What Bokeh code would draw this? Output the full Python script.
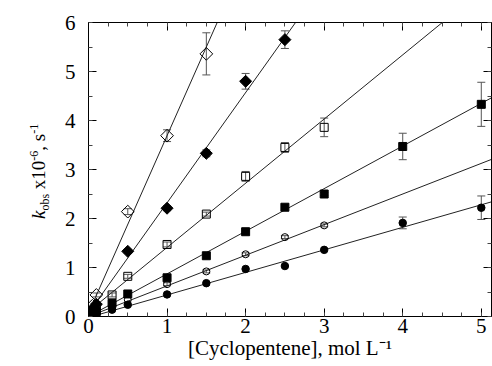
import numpy as np
from bokeh.plotting import figure
from bokeh.layouts import row
from bokeh.models import (ColumnDataSource, Whisker, TeeHead, LinearAxis, Div,
                          Range1d, SingleIntervalTicker)
from bokeh.embed import file_html
from bokeh.resources import INLINE

# ---- data ----
od_x = [0.02, 0.05, 0.1, 0.5, 1.0, 1.5]
od_y = [0.10, 0.22, 0.44, 2.14, 3.69, 5.36]
od_e = [0, 0, 0.04, 0.06, 0.12, 0.43]

fd_x = [0.02, 0.05, 0.1, 0.5, 1.0, 1.5, 2.0, 2.5]
fd_y = [0.07, 0.14, 0.25, 1.33, 2.21, 3.33, 4.80, 5.65]
fd_e = [0, 0, 0, 0.04, 0.05, 0.07, 0.16, 0.18]

os_x = [0.02, 0.05, 0.1, 0.3, 0.5, 1.0, 1.5, 2.0, 2.5, 3.0]
os_y = [0.04, 0.08, 0.14, 0.44, 0.82, 1.47, 2.09, 2.86, 3.45, 3.86]
os_e = [0, 0, 0, 0.04, 0.04, 0.05, 0.04, 0.10, 0.10, 0.19]

fs_x = [0.02, 0.05, 0.1, 0.3, 0.5, 1.0, 1.5, 2.0, 2.5, 3.0, 4.0, 5.0]
fs_y = [0.03, 0.06, 0.10, 0.27, 0.46, 0.79, 1.24, 1.73, 2.23, 2.50, 3.47, 4.33]
fs_e = [0, 0, 0, 0, 0, 0, 0, 0, 0, 0.03, 0.27, 0.45]

oc_x = [0.02, 0.05, 0.1, 0.3, 0.5, 1.0, 1.5, 2.0, 2.5, 3.0]
oc_y = [0.02, 0.04, 0.07, 0.19, 0.34, 0.66, 0.92, 1.27, 1.62, 1.86]
oc_e = [0, 0, 0, 0, 0, 0.03, 0.03, 0.03, 0.03, 0.03]

fc_x = [0.02, 0.05, 0.1, 0.3, 0.5, 1.0, 1.5, 2.0, 2.5, 3.0, 4.0, 5.0]
fc_y = [0.01, 0.03, 0.05, 0.14, 0.24, 0.45, 0.68, 0.97, 1.03, 1.36, 1.91, 2.22]
fc_e = [0, 0, 0, 0, 0, 0, 0, 0, 0, 0, 0.12, 0.24]

# fitted lines (slope, intercept)
fit_slopes = [3.62, 2.25, 1.31, 0.87, 0.625, 0.46]
fit_intercepts = [0.07, 0.07, 0.10, 0.0, 0.0, -0.02]

x_label = "[Cyclopentene], mol L\u207b\u00b9"

FONT = "Liberation Serif"
YDIV_W = 56

p = figure(width=492 - YDIV_W, height=366, output_backend="svg", toolbar_location=None,
           x_range=Range1d(0, 5.13), y_range=Range1d(0, 6),
           min_border_left=88 - YDIV_W, min_border_right=1, min_border_top=22,
           min_border_bottom=50)
p.xgrid.visible = False
p.ygrid.visible = False
p.outline_line_color = "black"
p.background_fill_color = "white"
p.border_fill_color = "white"

def style_axis(ax, show_labels, standoff):
    ax.axis_line_color = "black"
    ax.major_tick_line_color = "black"
    ax.minor_tick_line_color = "#444444"
    ax.major_tick_in = 8
    ax.major_tick_out = 0
    ax.minor_tick_in = 4
    ax.minor_tick_out = 0
    if show_labels:
        ax.major_label_text_font = FONT
        ax.major_label_text_font_size = "21px"
        ax.major_label_text_color = "black"
        ax.major_label_standoff = standoff
    else:
        ax.major_label_text_color = None
        ax.major_label_text_font_size = "0px"
        ax.major_label_standoff = 0

p.xaxis.ticker = SingleIntervalTicker(interval=1, num_minor_ticks=4)
p.yaxis.ticker = SingleIntervalTicker(interval=1, num_minor_ticks=2)
style_axis(p.xaxis[0], True, 2)
style_axis(p.yaxis[0], True, 13)

p.xaxis.axis_label = x_label
p.xaxis.axis_label_text_font = FONT
p.xaxis.axis_label_text_font_size = "21px"
p.xaxis.axis_label_text_font_style = "normal"
p.xaxis.axis_label_text_color = "black"
p.xaxis.axis_label_standoff = 0

top = LinearAxis(ticker=SingleIntervalTicker(interval=1, num_minor_ticks=4))
right = LinearAxis(ticker=SingleIntervalTicker(interval=1, num_minor_ticks=2))
style_axis(top, False, 0)
style_axis(right, False, 0)
p.add_layout(top, "above")
p.add_layout(right, "right")

# fit lines
x_end = 5.2
for s, b in zip(fit_slopes, fit_intercepts):
    p.line([0, x_end], [b, b + s * x_end], line_color="#222222", line_width=1)

series = [
    (od_x, od_y, od_e, "square", np.pi / 4, 9, None),
    (fd_x, fd_y, fd_e, "square", np.pi / 4, 8.5, "black"),
    (os_x, os_y, os_e, "square", 0, 8, None),
    (fs_x, fs_y, fs_e, "square", 0, 8, "black"),
    (oc_x, oc_y, oc_e, "circle", 0, 7, None),
    (fc_x, fc_y, fc_e, "circle", 0, 7.5, "black"),
]

for xs, ys, es, marker, ang, size, fill in series:
    xe = [x for x, e in zip(xs, es) if e > 0]
    lo = [y - e for y, e in zip(ys, es) if e > 0]
    hi = [y + e for y, e in zip(ys, es) if e > 0]
    if xe:
        wsrc = ColumnDataSource(dict(base=xe, lower=lo, upper=hi))
        w = Whisker(source=wsrc, base="base", lower="lower", upper="upper",
                    dimension="height", line_color="#555555", line_width=1,
                    upper_head=TeeHead(size=8, line_color="#555555", line_width=1),
                    lower_head=TeeHead(size=8, line_color="#555555", line_width=1))
        p.add_layout(w)
    src = ColumnDataSource(dict(x=xs, y=ys))
    p.scatter("x", "y", source=src, marker=marker, angle=ang, size=size,
              line_color="black", line_width=1,
              fill_color=fill if fill else None)

# rotated y-axis title with italic k, subscript and superscripts
sub = "font-size:12px;position:relative;top:4px;"
sup = "font-size:12px;position:relative;top:-7px;"
ytitle = (
    f"<div style='position:relative;width:{YDIV_W}px;height:366px;overflow:visible;'>"
    "<div style='position:absolute;left:29px;top:219px;transform-origin:0 0;"
    "transform:rotate(-90deg);white-space:nowrap;"
    "font-family:\"Liberation Serif\",\"Times New Roman\",serif;"
    "font-size:19px;line-height:19px;color:black;letter-spacing:0;'>"
    f"<i>k</i><span style='{sub}'>obs</span> x10<span style='{sup}'>-6</span>, "
    f"s<span style='{sup}'>-1</span></div></div>"
)
ydiv = Div(text=ytitle, width=YDIV_W, height=366, margin=0,
           styles={"font-family": "Liberation Serif"})

layout = row(ydiv, p, spacing=0)

open("out.html", "w").write(file_html(layout, INLINE))
